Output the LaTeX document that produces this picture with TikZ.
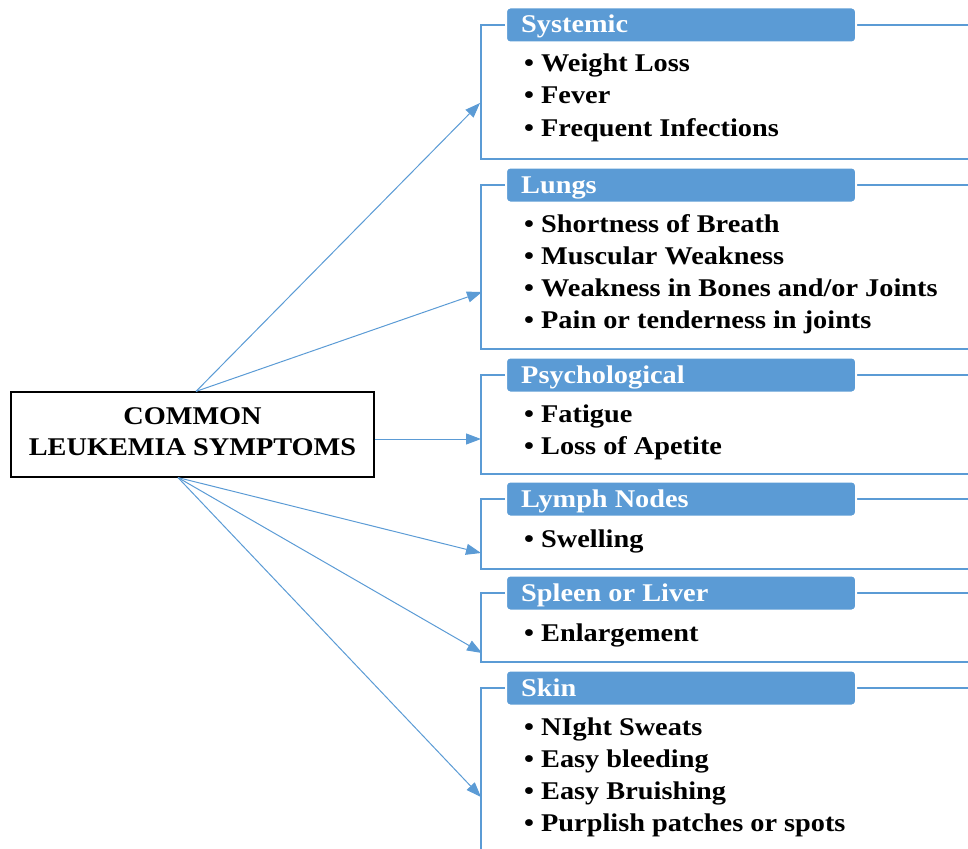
\documentclass[tikz,border=0pt]{standalone}
\usepackage{fontspec}
\setmainfont{Liberation Serif}[FakeStretch=1.11]
\usetikzlibrary{arrows.meta,calc}
\definecolor{accent}{HTML}{5B9BD5}
\tikzset{
  frame/.style={draw=accent, line width=2pt},
  header/.style={draw=white, line width=2pt, fill=accent, rounded corners=4pt,
    minimum width=350pt, minimum height=35pt, inner sep=0pt},
  headtext/.style={anchor=base west, inner sep=0pt, text=white,
    font=\fontsize{25.5}{30}\selectfont\bfseries},
  item/.style={anchor=base west, inner sep=0pt,
    font=\fontsize{25.5}{30}\selectfont\bfseries},
  link/.style={draw=accent, line width=1pt, -{Triangle[length=15pt,width=11pt]}},
  mainbox/.style={draw=black, line width=1.2pt, minimum width=363pt,
    minimum height=85pt, inner sep=0pt}
}
\newcommand{\bul}[1]{\makebox[17pt][l]{\textbullet}#1}
\begin{document}
\begin{tikzpicture}[x=1pt,y=-1pt]
\useasboundingbox (0,0) rectangle (968,848);
\clip (0,0) rectangle (968,848);

% central box
\node[mainbox] (main) at (192.5,434.5) {};
\node[item, anchor=base] (m1) at (192.5,424) {COMMON};
\node[item, anchor=base] (m2) at (192.5,455) {LEUKEMIA SYMPTOMS};

% category frames (open to the right)
\draw[frame] (481,25) rectangle (990,159);
\draw[frame] (481,185) rectangle (990,349);
\draw[frame] (481,375) rectangle (990,474);
\draw[frame] (481,499) rectangle (990,569);
\draw[frame] (481,593) rectangle (990,662);
\draw[frame] (481,688) rectangle (990,900);

% headers
\node[header] (hsys) at (681,25) {};
\node[header] (hlun) at (681,185) {};
\node[header] (hpsy) at (681,375) {};
\node[header] (hlym) at (681,499) {};
\node[header] (hspl) at (681,593) {};
\node[header] (hski) at (681,688) {};
\node[headtext] (tsys) at (521,33) {Systemic};
\node[headtext] (tlun) at (521,193) {Lungs};
\node[headtext] (tpsy) at (521,383) {Psychological};
\node[headtext] (tlym) at (521,507) {Lymph Nodes};
\node[headtext] (tspl) at (521,601) {Spleen or Liver};
\node[headtext] (tski) at (521,696) {Skin};

% items
\node[item] (s1) at (524,72)  {\bul{Weight Loss}};
\node[item] (s2) at (524,104) {\bul{Fever}};
\node[item] (s3) at (524,136) {\bul{Frequent Infections}};
\node[item] (l1) at (524,232) {\bul{Shortness of Breath}};
\node[item] (l2) at (524,264) {\bul{Muscular Weakness}};
\node[item] (l3) at (524,296) {\bul{Weakness in Bones and/or Joints}};
\node[item] (l4) at (524,328) {\bul{Pain or tenderness in joints}};
\node[item] (p1) at (524,422) {\bul{Fatigue}};
\node[item] (p2) at (524,454) {\bul{Loss of Apetite}};
\node[item] (y1) at (524,547) {\bul{Swelling}};
\node[item] (e1) at (524,641) {\bul{Enlargement}};
\node[item] (k1) at (524,735) {\bul{NIght Sweats}};
\node[item] (k2) at (524,767) {\bul{Easy bleeding}};
\node[item] (k3) at (524,799) {\bul{Easy Bruishing}};
\node[item] (k4) at (524,831) {\bul{Purplish patches or spots}};

% connector end points
\coordinate (mt) at ($(main.north)+(3.5,0)$);
\coordinate (mb) at ($(main.south)+(-14.5,0)$);
\coordinate (mr) at ($(main.east)+(0,4.5)$);
\coordinate (asys) at (480,103);
\coordinate (alun) at (482,292);
\coordinate (apsy) at (481,439);
\coordinate (alym) at (481,553);
\coordinate (aspl) at (482,653);
\coordinate (aski) at (481,797);

\draw[link] (mt) -- (asys);
\draw[link] (mt) -- (alun);
\draw[link] (mr) -- (apsy);
\draw[link] (mb) -- (alym);
\draw[link] (mb) -- (aspl);
\draw[link] (mb) -- (aski);
\end{tikzpicture}
\end{document}
